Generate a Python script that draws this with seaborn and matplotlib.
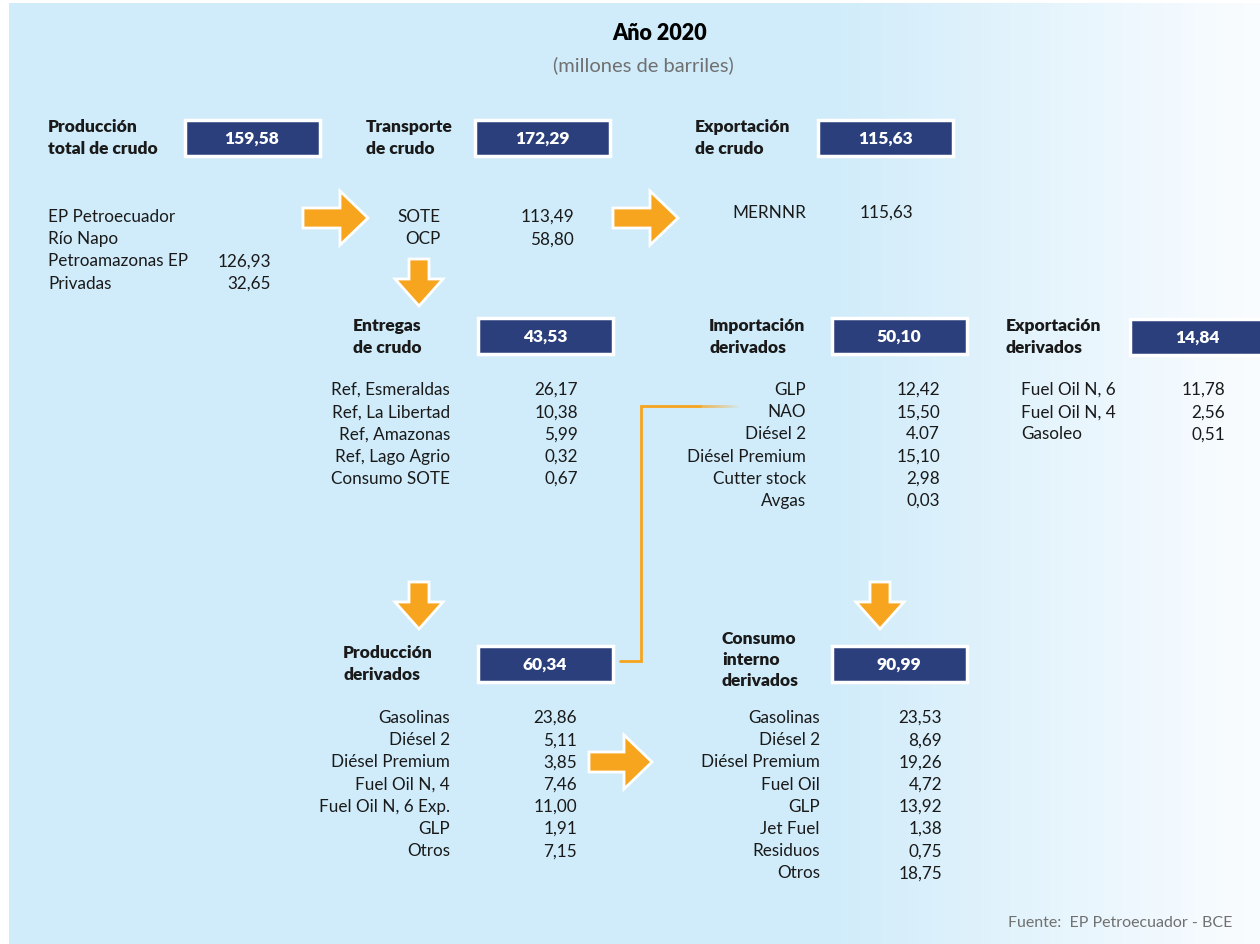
import numpy as np
import matplotlib
matplotlib.use("Agg")
import matplotlib.pyplot as plt
from matplotlib.patches import Rectangle, FancyArrow
from matplotlib.collections import LineCollection
import seaborn as sns

sns.set_theme(style="white")
plt.rcParams['font.family'] = ['Lato', 'DejaVu Sans']

# ---- data (millones de barriles, 2020) ----
title = "Año 2020"
subtitle = "(millones de barriles)"
source = "Fuente:  EP Petroecuador - BCE"

prod_labels = ["EP Petroecuador", "Río Napo", "Petroamazonas EP", "Privadas"]
prod_values = ["", "", "126,93", "32,65"]

transp_labels = ["SOTE", "OCP"]
transp_values = ["113,49", "58,80"]

expcrudo_labels = ["MERNNR"]
expcrudo_values = ["115,63"]

entregas_labels = ["Ref, Esmeraldas", "Ref, La Libertad", "Ref, Amazonas",
                   "Ref, Lago Agrio", "Consumo SOTE"]
entregas_values = ["26,17", "10,38", "5,99", "0,32", "0,67"]

import_labels = ["GLP", "NAO", "Diésel 2", "Diésel Premium", "Cutter stock", "Avgas"]
import_values = ["12,42", "15,50", "4.07", "15,10", "2,98", "0,03"]

expder_labels = ["Fuel Oil N, 6", "Fuel Oil N, 4", "Gasoleo"]
expder_values = ["11,78", "2,56", "0,51"]

prodder_labels = ["Gasolinas", "Diésel 2", "Diésel Premium", "Fuel Oil N, 4",
                  "Fuel Oil N, 6 Exp.", "GLP", "Otros"]
prodder_values = ["23,86", "5,11", "3,85", "7,46", "11,00", "1,91", "7,15"]

consumo_labels = ["Gasolinas", "Diésel 2", "Diésel Premium", "Fuel Oil", "GLP",
                  "Jet Fuel", "Residuos", "Otros"]
consumo_values = ["23,53", "8,69", "19,26", "4,72", "13,92", "1,38", "0,75", "18,75"]

headers = ["Producción\ntotal de crudo", "Transporte\nde crudo", "Exportación\nde crudo",
           "Entregas\nde crudo", "Importación\nderivados", "Exportación\nderivados",
           "Producción\nderivados", "Consumo\ninterno\nderivados"]
totals = ["159,58", "172,29", "115,63", "43,53", "50,10", "14,84", "60,34", "90,99"]

# ---- style ----
BG = np.array([208, 236, 250]) / 255
NAVY = "#2A3F7B"
ORANGE = "#F7A51E"
TXT = "#1a1a1a"
GREY = "#707070"
ROW = 22.2

fig = plt.figure(figsize=(12.6, 9.45), dpi=100)
ax = fig.add_axes([0, 0, 1, 1])
ax.set_xlim(0, 1260)
ax.set_ylim(945, 0)
ax.axis("off")

# background: flat light blue fading to white on the right
xs = np.linspace(0, 1, 400)
grad = np.clip((xs * 1251 + 9 - 830) / 415, 0, 1)
row = BG[None, :] * (1 - grad[:, None]) + np.array([249, 252, 255])[None, :] / 255 * grad[:, None]
ax.imshow(row[None, :, :], extent=(9, 1260, 945, 4), aspect="auto", zorder=0)

ax.text(660, 33, title, ha="center", va="center", fontsize=15.5, fontweight="heavy", color="black")
ax.text(643, 65, subtitle, ha="center", va="center", fontsize=14.5, fontweight="normal", color=GREY)
ax.text(1232, 923, source, ha="right", va="center", fontsize=11.5, fontweight="normal", color=GREY)

# header positions: (text x, text y centre, box x, box y)
hdr_pos = [(48, 138, 185, 121), (366, 138, 475, 121), (695, 138, 818, 121),
           (353, 337, 478, 319), (709, 337, 832, 319), (1006, 337, 1130, 320),
           (343, 664, 478, 647), (722, 660, 832, 647)]
for (tx, ty, bx, by), h, t in zip(hdr_pos, headers, totals):
    ax.text(tx, ty, h, ha="left", va="center", fontsize=12.5, fontweight="heavy",
            color=TXT, linespacing=1.42)
    ax.add_patch(Rectangle((bx, by), 135, 36, facecolor=NAVY, edgecolor="white",
                           lw=2.5, zorder=3))
    ax.text(bx + 67, by + 18, t, ha="center", va="center", fontsize=12.5,
            fontweight="heavy", color="white", zorder=4)


def block(labels, values, lx, vx, y0, lha):
    for i, (lab, val) in enumerate(zip(labels, values)):
        y = y0 + i * ROW
        ax.text(lx, y, lab, ha=lha, va="center", fontsize=12.3, color=TXT)
        if val:
            ax.text(vx, y, val, ha="right", va="center", fontsize=12.3, color=TXT)


block(prod_labels, prod_values, 48, 271, 217, "left")
block(transp_labels, transp_values, 440, 574, 217, "right")
block(expcrudo_labels, expcrudo_values, 806, 913, 213, "right")
block(entregas_labels, entregas_values, 450, 578, 390, "right")
block(import_labels, import_values, 806, 940, 390, "right")
block(expder_labels, expder_values, 1021, 1225, 390, "left")
block(prodder_labels, prodder_values, 450, 577, 718, "right")
block(consumo_labels, consumo_values, 820, 942, 718, "right")


# orange arrows
def arrow(x, y, dx, dy, shaft, head, hl):
    ax.add_patch(FancyArrow(x, y, dx, dy, width=shaft, head_width=head, head_length=hl,
                            length_includes_head=True, facecolor=ORANGE,
                            edgecolor="white", lw=2, zorder=3))


arrow(303, 219, 65, 0, 20, 54, 28)
arrow(613, 219, 65, 0, 20, 54, 28)
arrow(589, 763, 63, 0, 20, 54, 28)
arrow(419, 260, 0, 47, 20, 48, 27)
arrow(419, 583, 0, 47, 20, 48, 27)
arrow(880, 583, 0, 47, 20, 48, 27)

# connector line from Producción derivados to NAO, fading out
ax.plot([620, 641, 641, 700], [662, 662, 407, 407], color=ORANGE, lw=2,
        solid_joinstyle="miter", zorder=2)
fx = np.linspace(700, 740, 41)
segs = [[(fx[i], 407), (fx[i + 1], 407)] for i in range(len(fx) - 1)]
alphas = np.linspace(1, 0, len(segs))
cols = [(*matplotlib.colors.to_rgb(ORANGE), a) for a in alphas]
ax.add_collection(LineCollection(segs, colors=cols, lw=2, zorder=2))

fig.savefig("out.png", dpi=100, facecolor="white")
